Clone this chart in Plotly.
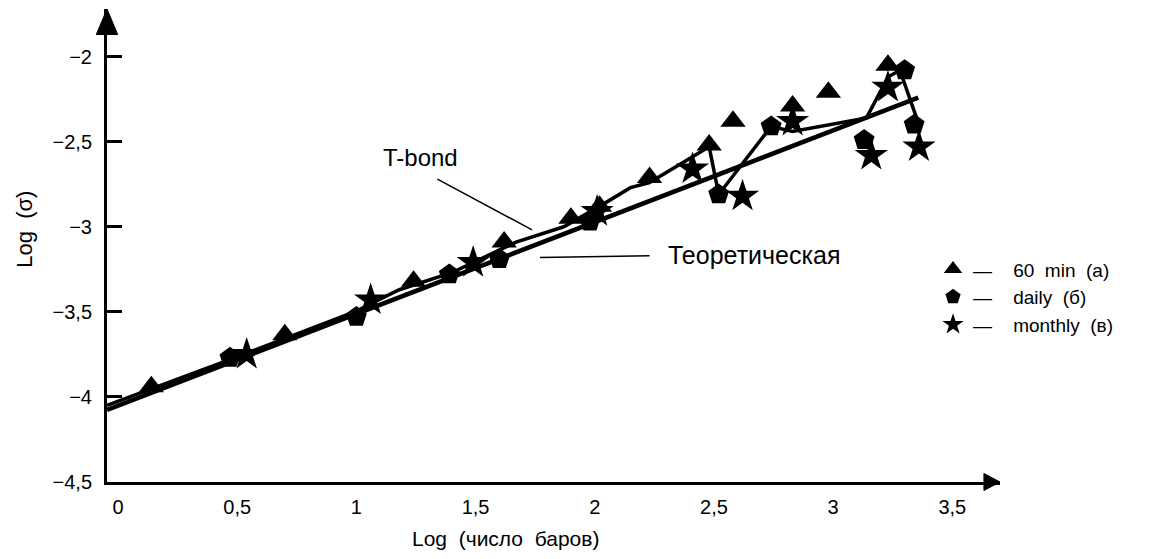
import plotly.graph_objects as go

# ---------------- data ----------------
min60_x = [0.14, 0.70, 1.24, 1.62, 1.90, 2.02, 2.23, 2.48, 2.58, 2.83, 2.98, 3.23]
min60_y = [-3.94, -3.635, -3.32, -3.09, -2.95, -2.88, -2.71, -2.52, -2.38, -2.29, -2.21, -2.05]

daily_x = [0.47, 1.00, 1.39, 1.60, 1.98, 2.52, 2.74, 3.13, 3.30, 3.34]
daily_y = [-3.77, -3.53, -3.28, -3.19, -2.97, -2.81, -2.41, -2.49, -2.08, -2.40]

monthly_x = [0.54, 1.06, 1.49, 2.01, 2.41, 2.62, 2.83, 3.16, 3.23, 3.36]
monthly_y = [-3.75, -3.43, -3.21, -2.91, -2.66, -2.82, -2.38, -2.58, -2.18, -2.53]

tbond_x = [-0.046, 0.5, 1.0, 1.18, 1.4, 1.6, 1.67, 1.87, 2.02, 2.15, 2.23, 2.48, 2.52,
           2.74, 2.83, 3.14, 3.23, 3.28, 3.35]
tbond_y = [-4.05, -3.765, -3.495, -3.37, -3.27, -3.14, -3.09, -3.00, -2.88, -2.77, -2.74,
           -2.53, -2.81, -2.41, -2.44, -2.36, -2.12, -2.08, -2.36]

theo_x = [-0.046, 3.357]
theo_y = [-4.076, -2.241]

x_ticks = [0, 0.5, 1, 1.5, 2, 2.5, 3, 3.5]
x_tick_text = ["0", "0,5", "1", "1,5", "2", "2,5", "3", "3,5"]
y_ticks = [-4.5, -4, -3.5, -3, -2.5, -2]
y_tick_text = ["\u22124,5", "\u22124", "\u22123,5", "\u22123", "\u22122,5", "\u22122"]

# annotation pointers
tbond_ptr_x = [1.34, 1.737]
tbond_ptr_y = [-2.72, -3.018]
theo_ptr_x = [1.77, 2.23]
theo_ptr_y = [-3.18, -3.17]

X_RANGE = [-0.046, 3.70]
Y_RANGE = [-4.5, -1.72]

FONT = "Liberation Sans, Arial, sans-serif"

fig = go.Figure()

fig.add_trace(go.Scatter(x=theo_x, y=theo_y, mode="lines",
                         line=dict(color="black", width=4.5), showlegend=False, hoverinfo="skip"))
fig.add_trace(go.Scatter(x=tbond_x, y=tbond_y, mode="lines",
                         line=dict(color="black", width=3.5), showlegend=False, hoverinfo="skip"))

fig.add_trace(go.Scatter(x=min60_x, y=min60_y, mode="markers", name="\u2014    60  min  (a)",
                         marker=dict(symbol="triangle-up", size=22, color="black")))
fig.add_trace(go.Scatter(x=daily_x, y=daily_y, mode="markers", name="\u2014    daily  (\u0431)",
                         marker=dict(symbol="pentagon", size=22, color="black")))
fig.add_trace(go.Scatter(x=monthly_x, y=monthly_y, mode="markers", name="\u2014    monthly  (\u0432)",
                         marker=dict(symbol="star", size=25, color="black")))

# pointer lines
fig.add_trace(go.Scatter(x=tbond_ptr_x, y=tbond_ptr_y, mode="lines",
                         line=dict(color="black", width=1.5), showlegend=False, hoverinfo="skip"))
fig.add_trace(go.Scatter(x=theo_ptr_x, y=theo_ptr_y, mode="lines",
                         line=dict(color="black", width=1.5), showlegend=False, hoverinfo="skip"))

fig.add_annotation(x=1.27, y=-2.59, text="T-bond", showarrow=False,
                   font=dict(size=24, color="black", family=FONT))
fig.add_annotation(x=2.30, y=-3.165, text="\u0422\u0435\u043e\u0440\u0435\u0442\u0438\u0447\u0435\u0441\u043a\u0430\u044f",
                   showarrow=False, xanchor="left",
                   font=dict(size=25, color="black", family=FONT))

# axis titles
fig.add_annotation(xref="paper", yref="paper", x=0.446, y=-0.1185, yanchor="middle",
                   text="Log  (\u0447\u0438\u0441\u043b\u043e  \u0431\u0430\u0440\u043e\u0432)",
                   showarrow=False, font=dict(size=21, color="black", family=FONT))
fig.add_annotation(xref="paper", yref="paper", x=-0.092, y=0.535, xanchor="center", yanchor="middle",
                   text="Log  (\u03c3)", textangle=-90,
                   showarrow=False, font=dict(size=22, color="black", family=FONT))

# axis arrowheads (paper coordinates)
fig.add_shape(type="path", xref="paper", yref="paper",
              path="M -0.012 0.946 L 0 1.0 L 0.012 0.946 Z",
              fillcolor="black", line=dict(color="black", width=1))
fig.add_shape(type="path", xref="paper", yref="paper",
              path="M 0.982 -0.018 L 1.0 0 L 0.982 0.018 Z",
              fillcolor="black", line=dict(color="black", width=1))

fig.update_layout(
    width=1165, height=559,
    margin=dict(l=107, r=165, t=9, b=77),
    paper_bgcolor="white", plot_bgcolor="white",
    font=dict(family=FONT, size=20, color="black"),
    showlegend=True,
    legend=dict(x=0.925, y=0.49, xanchor="left", yanchor="top",
                bgcolor="rgba(0,0,0,0)", font=dict(size=19), tracegroupgap=0,
                itemwidth=30),
    xaxis=dict(range=X_RANGE, tickvals=x_ticks, ticktext=x_tick_text,
               showline=True, linewidth=3, linecolor="black", showgrid=False,
               zeroline=False, ticks="", ticklabelstandoff=5),
    yaxis=dict(range=Y_RANGE, tickvals=y_ticks, ticktext=y_tick_text,
               showline=True, linewidth=3, linecolor="black", showgrid=False,
               zeroline=False, ticks="inside", ticklen=15, tickwidth=2.5, tickcolor="black",
               ticklabelstandoff=8),
)

fig.write_html("out.html")
